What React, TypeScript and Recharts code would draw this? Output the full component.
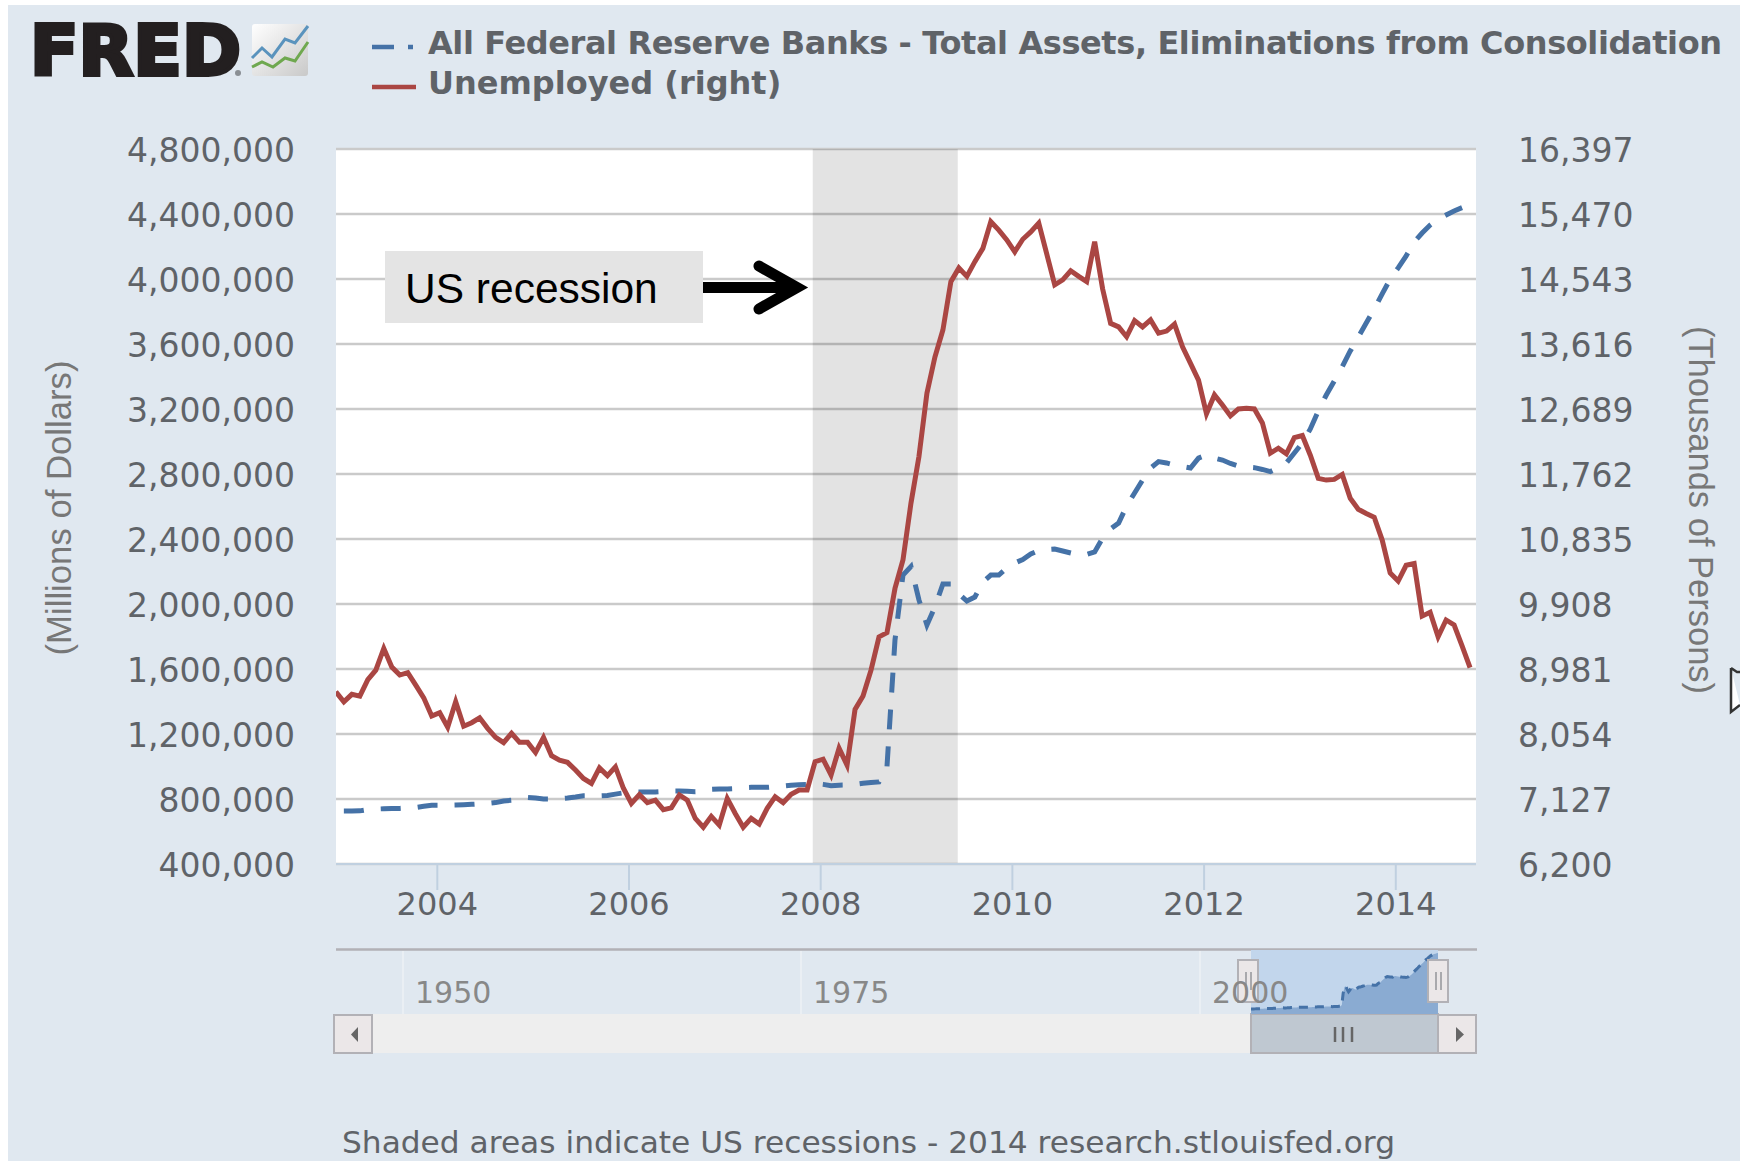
import {
  Area,
  AreaChart,
  CartesianGrid,
  ComposedChart,
  Legend,
  Line,
  ReferenceArea,
  XAxis,
  YAxis,
} from "recharts";

const LABEL_FONT = "'DejaVu Sans', sans-serif";
const TITLE_FONT = "'Liberation Sans', Arial, sans-serif";
const TEXT_COLOR = "#5f6368";
const ASSETS_COLOR = "#4572a7";
const UNEMPLOYED_COLOR = "#aa4643";

// Thousands of persons, monthly, first value is December 2002
const unemployed = [
  8657,
  8514, 8620, 8594, 8830, 8965, 9275, 9010, 8895, 8930, 8750, 8570, 8310,
  8357, 8150, 8514, 8165, 8215, 8285, 8135, 8005, 7930, 8065, 7935, 7935,
  7790, 8005, 7745, 7680, 7650, 7540, 7420, 7350, 7570, 7460, 7585, 7280,
  7065, 7190, 7075, 7110, 6975, 7000, 7185, 7110, 6850, 6725, 6880, 6755,
  7135, 6920, 6725, 6850, 6770, 6995, 7160, 7075, 7195, 7255, 7255, 7660,
  7695, 7470, 7850, 7610, 8405, 8595, 8965, 9440, 9500, 10130, 10535, 11345,
  12010, 12915, 13430, 13815, 14505, 14700, 14580, 14790, 14980, 15360, 15240, 15100,
  14930, 15110, 15215, 15340, 14900, 14460, 14530, 14660, 14580, 14505, 15075, 14400,
  13910, 13860, 13720, 13950, 13860, 13960, 13770, 13800, 13900, 13575, 13340, 13100,
  12620, 12890, 12745, 12590, 12690, 12700, 12690, 12490, 12060, 12130, 12050, 12280,
  12310, 12030, 11700, 11675, 11685, 11755, 11415, 11260, 11200, 11145, 10820, 10350,
  10235, 10460, 10485, 9735, 9790, 9440, 9680, 9610, 9310, 9000,
];

// Billions of dollars, monthly, January 2003 to September 2014
const totalAssets = [
  726, 726, 727, 735, 738, 740, 741, 742, 745, 748, 755, 762,
  762, 762, 763, 765, 767, 770, 773, 778, 788, 792, 800, 810,
  806, 800, 800, 802, 806, 812, 820, 820, 820, 822, 830, 838,
  843, 843, 843, 843, 846, 849, 849, 848, 845, 847, 860, 862,
  862, 864, 870, 872, 872, 872, 876, 880, 885, 888, 890, 896,
  890, 882, 885, 886, 890, 897, 902, 905, 1000, 1778, 2178, 2230,
  2025, 1871, 1983, 2123, 2123, 2062, 2018, 2043, 2135, 2178, 2178, 2221,
  2252, 2274, 2308, 2329, 2335, 2338, 2326, 2314, 2302, 2305, 2320, 2406,
  2462, 2498, 2603, 2683, 2763, 2837, 2876, 2868, 2855, 2846, 2837, 2898,
  2917, 2898, 2886, 2865, 2849, 2843, 2839, 2828, 2815, 2837, 2868, 2929,
  2991, 3077, 3188, 3286, 3372, 3460, 3557, 3643, 3729, 3815, 3908, 4000,
  4068, 4142, 4228, 4283, 4332, 4369, 4394, 4419, 4439,
];

const assetTicks = [
  400000, 800000, 1200000, 1600000, 2000000, 2400000, 2800000, 3200000, 3600000, 4000000, 4400000,
  4800000,
];
const unemployedTicks = [
  6200, 7127, 8054, 8981, 9908, 10835, 11762, 12689, 13616, 14543, 15470, 16397,
];
const yearTicks = [2004, 2006, 2008, 2010, 2012, 2014];
const xDomain = [2002.943, 2014.837];
const recession = [2007.917, 2009.43];

const navigatorYears = [
  { label: "1950", lineX: 403 },
  { label: "1975", lineX: 801 },
  { label: "2000", lineX: 1200 },
];

// readings land about a third of the way into their month
const monthToYear = (i: number) => 2002 + (11.3 + i) / 12;

const rows = unemployed.map((value, i) => ({
  date: monthToYear(i),
  unemployed: value,
  assets: i === 0 || totalAssets[i - 1] === undefined ? undefined : totalAssets[i - 1] * 1000,
}));

const formatThousands = (v: number) => v.toLocaleString("en-US");

const yTick = { fontFamily: LABEL_FONT, fontSize: 33, fill: TEXT_COLOR, dy: 1.5 };

function SeriesLegend({ payload }: { payload?: any[] }) {
  return (
    <div
      style={{
        fontFamily: LABEL_FONT,
        fontWeight: "bold",
        fontSize: 32,
        lineHeight: "40px",
        color: TEXT_COLOR,
        whiteSpace: "nowrap",
      }}
    >
      {(payload ?? []).map((item, i) => (
        <div key={item.value} style={{ display: "flex", alignItems: "center" }}>
          <svg width={56} height={40} style={{ display: "block" }}>
            <line
              x1={0}
              x2={44}
              y1={24}
              y2={24}
              stroke={item.color}
              strokeWidth={4.5}
              strokeDasharray={i === 0 ? "22 14 5 30" : undefined}
            />
          </svg>
          {/* the long title is set a little tighter to fit the panel */}
          <span style={{ letterSpacing: i === 0 ? "-0.4px" : undefined }}>{item.value}</span>
        </div>
      ))}
    </div>
  );
}

function Logo() {
  return (
    <g>
      <defs>
        <linearGradient id="iconShade" x1="0" y1="0" x2="1" y2="1">
          <stop offset="0%" stopColor="#ffffff" />
          <stop offset="100%" stopColor="#c9c9c9" />
        </linearGradient>
      </defs>
      <text
        x={30}
        y={75}
        fontFamily="'DejaVu Sans', sans-serif"
        fontWeight="bold"
        fontSize={70}
        textLength={211}
        lengthAdjust="spacingAndGlyphs"
        fill="#231f20"
        stroke="#231f20"
        strokeWidth={4}
      >
        FRED
      </text>
      <circle cx={238} cy={73} r={3} fill="#8a8f94" />
      <rect x={252} y={24} width={56} height={52} rx={3} fill="url(#iconShade)" />
      <polyline
        points="252,58 262,48 272,57 285,39 295,43 308,26"
        fill="none"
        stroke="#5a93bd"
        strokeWidth={3}
      />
      <polyline
        points="252,67 262,62 273,67 285,58 295,61 308,42"
        fill="none"
        stroke="#6fa84f"
        strokeWidth={3}
      />
    </g>
  );
}

function Handle({ x }: { x: number }) {
  return (
    <g>
      <rect x={x} y={960} width={20} height={42} fill="#ebe7e8" stroke="#b2b1b6" strokeWidth={2} />
      <line x1={x + 8} x2={x + 8} y1={972} y2={990} stroke="#a9a9ad" strokeWidth={2} />
      <line x1={x + 13} x2={x + 13} y1={972} y2={990} stroke="#a9a9ad" strokeWidth={2} />
    </g>
  );
}

export default function App() {
  return (
    <div
      style={{
        position: "absolute",
        left: 0,
        top: 0,
        width: 1740,
        height: 1161,
        overflow: "hidden",
        background: "#fff",
      }}
    >
      <div
        style={{ position: "absolute", left: 8, top: 5, right: 0, bottom: 0, background: "#e0e8f0" }}
      />

      {/* navigator strip and scrollbar, under the mini chart */}
      <svg width={1740} height={1161} style={{ position: "absolute", left: 0, top: 0 }}>
        <line x1={336} x2={1477} y1={949.5} y2={949.5} stroke="#b2b1b6" strokeWidth={2.5} />
        {navigatorYears.map((y) => (
          <line key={y.label} x1={y.lineX} x2={y.lineX} y1={951} y2={1014} stroke="#eaeff4" strokeWidth={2} />
        ))}
        <rect x={336} y={1014} width={1102} height={39} fill="#eeeeee" />
        <rect x={334} y={1015} width={38} height={38} fill="#ebe7e8" stroke="#b2b1b6" strokeWidth={2} />
        <path d="M358 1027 L351 1034.5 L358 1042 Z" fill="#666" />
        <rect x={1251} y={1014} width={187} height={39} fill="#bfc8d1" stroke="#b2b1b6" strokeWidth={2} />
        {[1335, 1343, 1352].map((x) => (
          <line key={x} x1={x} x2={x} y1={1027} y2={1042} stroke="#666" strokeWidth={2.5} />
        ))}
        <rect x={1438} y={1015} width={38} height={38} fill="#ebe7e8" stroke="#b2b1b6" strokeWidth={2} />
        <path d="M1456 1027 L1464 1034.5 L1456 1042 Z" fill="#666" />
      </svg>

      <div style={{ position: "absolute", left: 0, top: 0 }}>
        <ComposedChart
          width={1740}
          height={1161}
          data={rows}
          margin={{ top: 149, right: 0, bottom: 0, left: 0 }}
        >
          <CartesianGrid yAxisId="assets" vertical={false} fill="#fff" stroke="#cacaca" strokeWidth={2.5} />
          <XAxis
            dataKey="date"
            type="number"
            domain={xDomain}
            allowDataOverflow
            ticks={yearTicks}
            interval={0}
            height={297}
            tickSize={26}
            tickMargin={2}
            stroke="#c0d0e0"
            strokeWidth={2}
            tick={{ fontFamily: LABEL_FONT, fontSize: 32, fill: TEXT_COLOR, strokeWidth: 0 }}
          />
          <YAxis
            yAxisId="assets"
            width={336}
            domain={[400000, 4800000]}
            ticks={assetTicks}
            interval={0}
            axisLine={false}
            tickLine={false}
            tickSize={41}
            tickMargin={0}
            tickFormatter={formatThousands}
            tick={yTick}
          />
          <YAxis
            yAxisId="unemployed"
            orientation="right"
            width={264}
            domain={[6200, 16397]}
            ticks={unemployedTicks}
            interval={0}
            axisLine={false}
            tickLine={false}
            tickSize={42}
            tickMargin={0}
            tickFormatter={formatThousands}
            tick={yTick}
          />
          <ReferenceArea
            yAxisId="assets"
            x1={recession[0]}
            x2={recession[1]}
            fill="#000"
            fillOpacity={0.11}
            stroke="none"
          />
          <Line
            yAxisId="assets"
            dataKey="assets"
            name="All Federal Reserve Banks - Total Assets, Eliminations from Consolidation"
            type="linear"
            dot={false}
            stroke={ASSETS_COLOR}
            strokeWidth={5}
            strokeDasharray="20 17"
            isAnimationActive={false}
          />
          <Line
            yAxisId="unemployed"
            dataKey="unemployed"
            name="Unemployed (right)"
            type="linear"
            dot={false}
            stroke={UNEMPLOYED_COLOR}
            strokeWidth={5}
            isAnimationActive={false}
          />
          <Legend
            layout="horizontal"
            align="center"
            verticalAlign="middle"
            wrapperStyle={{ left: 372, top: 23, width: "auto" }}
            content={(props: any) => <SeriesLegend payload={props.payload} />}
          />
        </ComposedChart>
      </div>

      {/* selected range in the navigator */}
      <div style={{ position: "absolute", left: 1251, top: 950 }}>
        <AreaChart
          width={187}
          height={64}
          data={rows.filter((r) => r.assets !== undefined)}
          margin={{ top: 0, right: 0, bottom: 0, left: 0 }}
          style={{ background: "#c2d6ec" }}
        >
          <XAxis dataKey="date" type="number" domain={["dataMin", "dataMax"]} hide />
          <YAxis domain={[395000, 4640000]} hide />
          <Area
            dataKey="assets"
            type="linear"
            dot={false}
            stroke={ASSETS_COLOR}
            strokeWidth={3}
            strokeDasharray="9 7"
            fill="#8aabd2"
            fillOpacity={1}
            isAnimationActive={false}
          />
        </AreaChart>
      </div>

      <svg
        width={1740}
        height={1161}
        style={{ position: "absolute", left: 0, top: 0, pointerEvents: "none" }}
      >
        <Logo />

        {/* recession callout */}
        <rect x={385} y={251} width={318} height={72} fill="#e4e4e4" />
        <text x={405} y={303} fontFamily={TITLE_FONT} fontSize={42.5} fill="#000">
          US recession
        </text>
        <line x1={703} x2={792} y1={287.5} y2={287.5} stroke="#000" strokeWidth={11} />
        <path
          d="M759 266 L797 287.5 L759 309"
          fill="none"
          stroke="#000"
          strokeWidth={11}
          strokeLinecap="round"
        />

        {/* axis titles */}
        <text
          transform="translate(71 508) rotate(-90)"
          textAnchor="middle"
          fontFamily={TITLE_FONT}
          fontSize={34.7}
          fill="#777"
        >
          (Millions of Dollars)
        </text>
        <text
          transform="translate(1689 510) rotate(90)"
          textAnchor="middle"
          fontFamily={TITLE_FONT}
          fontSize={34.5}
          fill="#777"
        >
          (Thousands of Persons)
        </text>

        {/* navigator handles and years */}
        <Handle x={1238} />
        <Handle x={1428} />
        {navigatorYears.map((y) => (
          <text
            key={y.label}
            x={y.lineX + 12}
            y={1003}
            fontFamily={LABEL_FONT}
            fontSize={30}
            fill="#888"
          >
            {y.label}
          </text>
        ))}

        <text
          x={342}
          y={1153}
          fontFamily={LABEL_FONT}
          fontSize={31}
          textLength={1053}
          lengthAdjust="spacingAndGlyphs"
          fill={TEXT_COLOR}
        >
          Shaded areas indicate US recessions - 2014 research.stlouisfed.org
        </text>

        {/* mouse pointer left at the edge */}
        <path d="M1731 668 L1737 672 L1740 672 M1731 668 L1731 712 L1740 705" fill="#fff" stroke="#333" strokeWidth={2.5} />
      </svg>
    </div>
  );
}
